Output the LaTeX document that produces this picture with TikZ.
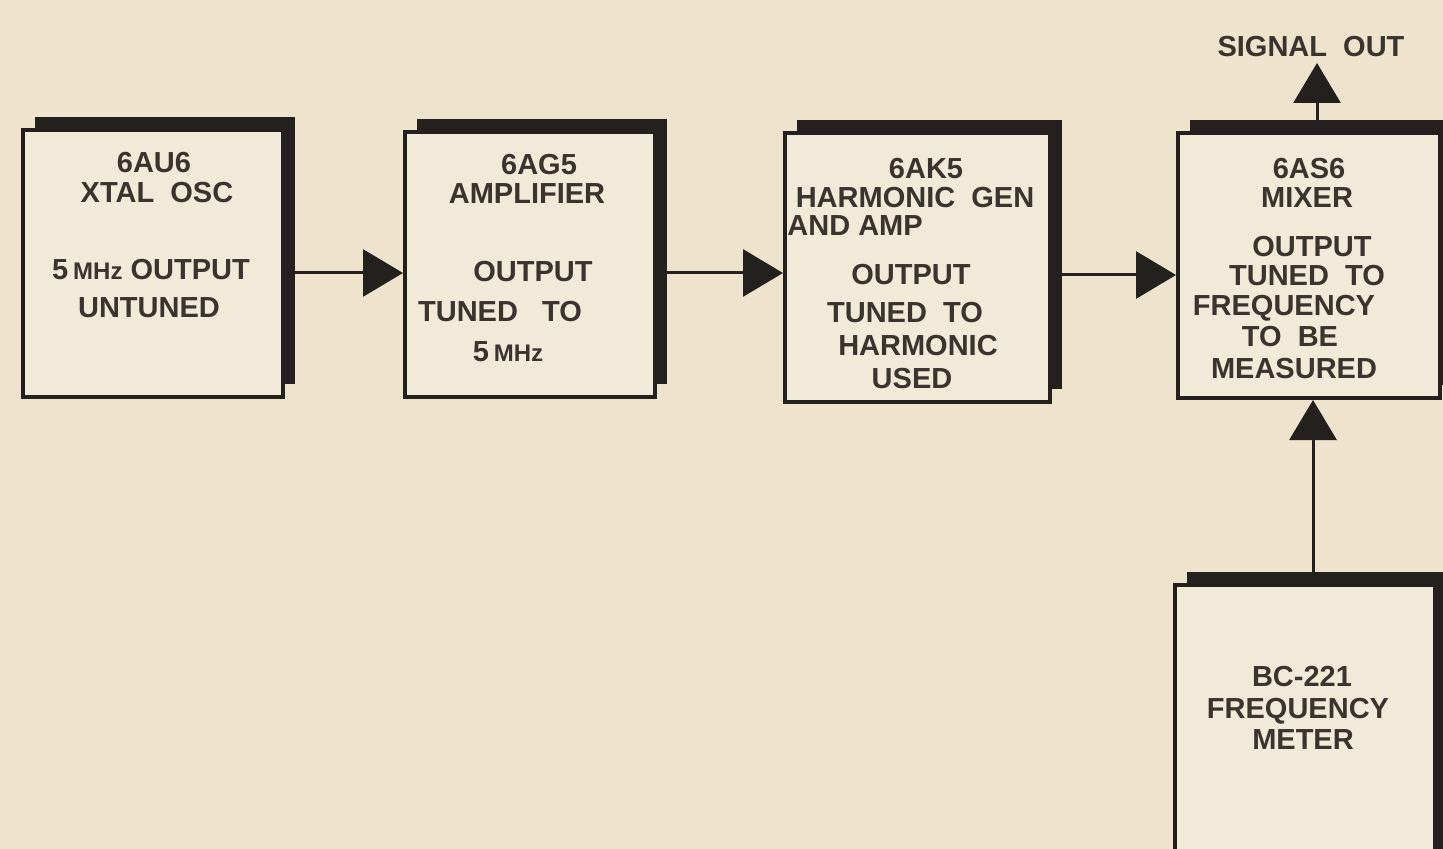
\documentclass[tikz,border=0pt]{standalone}
\usepackage{fontspec}
\setmainfont{Liberation Sans}
\usetikzlibrary{arrows.meta,shadows}
\definecolor{paper}{RGB}{238,227,205}
\definecolor{boxfill}{RGB}{242,234,217}
\definecolor{ink}{RGB}{36,32,29}
\definecolor{txt}{RGB}{58,52,46}
\begin{document}
\begin{tikzpicture}[x=0.5pt,y=-0.5pt,
  blk/.style={draw=ink, line width=2pt, fill=boxfill, inner sep=0pt,
     general shadow={fill=ink, shadow xshift=6pt, shadow yshift=6.5pt}},
  lbl/.style={inner sep=0pt, text height=10.7pt, text depth=0pt, text=txt,
     font=\fontsize{14.5}{14.5}\selectfont\bfseries},
  conn/.style={draw=ink, line width=1.5pt, -{Triangle[length=20pt,width=23.5pt]}}]
\useasboundingbox (0,0) rectangle (1443,849);
\clip (0,0) rectangle (1443,849);
\fill[paper] (0,0) rectangle (1443,849);

% blocks
\node[blk, minimum width=130pt, minimum height=133.5pt] (osc) at (153,263.5) {};
\node[blk, minimum width=125pt, minimum height=132.5pt] (amp) at (530,264.5) {};
\node[blk, minimum width=132.5pt, minimum height=134.5pt] (har) at (917.5,267.5) {};
\node[blk, minimum width=131pt, minimum height=132.5pt] (mix) at (1309,265.5) {};
\node[blk, minimum width=130pt, minimum height=150pt] (met) at (1305,735) {};

% texts box 1
\node[lbl] (t1a) at (154,162) {6AU6};
\node[lbl] (t1b) at (157,192) {XTAL~~OSC};
\node[lbl] (t1c) at (151,269) {5\,{\fontsize{12}{12}\selectfont MHz}~OUTPUT};
\node[lbl] (t1d) at (149,307) {UNTUNED};
% box 2
\node[lbl] (t2a) at (539,164) {6AG5};
\node[lbl] (t2b) at (527,193) {AMPLIFIER};
\node[lbl] (t2c) at (533,271) {OUTPUT};
\node[lbl] (t2d) at (500,311) {TUNED~~~TO};
\node[lbl] (t2e) at (508,351) {5\,{\fontsize{12}{12}\selectfont MHz}};
% box 3
\node[lbl] (t3a) at (926,168) {6AK5};
\node[lbl] (t3b) at (915,197) {HARMONIC~~GEN};
\node[lbl, anchor=west] (t3c) at (787,225) {AND AMP};
\node[lbl] (t3d) at (911,274) {OUTPUT};
\node[lbl] (t3e) at (905,312) {TUNED~~TO};
\node[lbl] (t3f) at (918,345) {HARMONIC};
\node[lbl] (t3g) at (912,378) {USED};
% box 4
\node[lbl] (t4a) at (1309,168) {6AS6};
\node[lbl] (t4b) at (1307,197) {MIXER};
\node[lbl] (t4c) at (1312,246) {OUTPUT};
\node[lbl] (t4d) at (1307,275) {TUNED~~TO};
\node[lbl] (t4e) at (1284,305) {FREQUENCY};
\node[lbl] (t4f) at (1290,336) {TO~~BE};
\node[lbl] (t4g) at (1294,368) {MEASURED};
% signal out
\node[lbl] (sig) at (1311,46) {SIGNAL~~OUT};
\coordinate (sigtip) at (1317,63);
% box 5
\node[lbl] (t5a) at (1302,676) {BC-221};
\node[lbl] (t5b) at (1298,708) {FREQUENCY};
\node[lbl] (t5c) at (1303,739) {METER};

% connectors
\draw[conn] ([yshift=-4.75pt]osc.east) -- ([yshift=-4.75pt]osc.east -| amp.west);
\draw[conn] ([yshift=-4.25pt]amp.east) -- ([yshift=-4.25pt]amp.east -| har.west);
\draw[conn] ([yshift=-3.75pt]har.east) -- ([yshift=-3.75pt]har.east -| mix.west);
\draw[conn] ([xshift=4pt]mix.north) -- ([xshift=4pt]mix.north |- sigtip);
\draw[conn] ([xshift=4pt]met.north) -- ([xshift=4pt]met.north |- mix.south);
\end{tikzpicture}
\end{document}
